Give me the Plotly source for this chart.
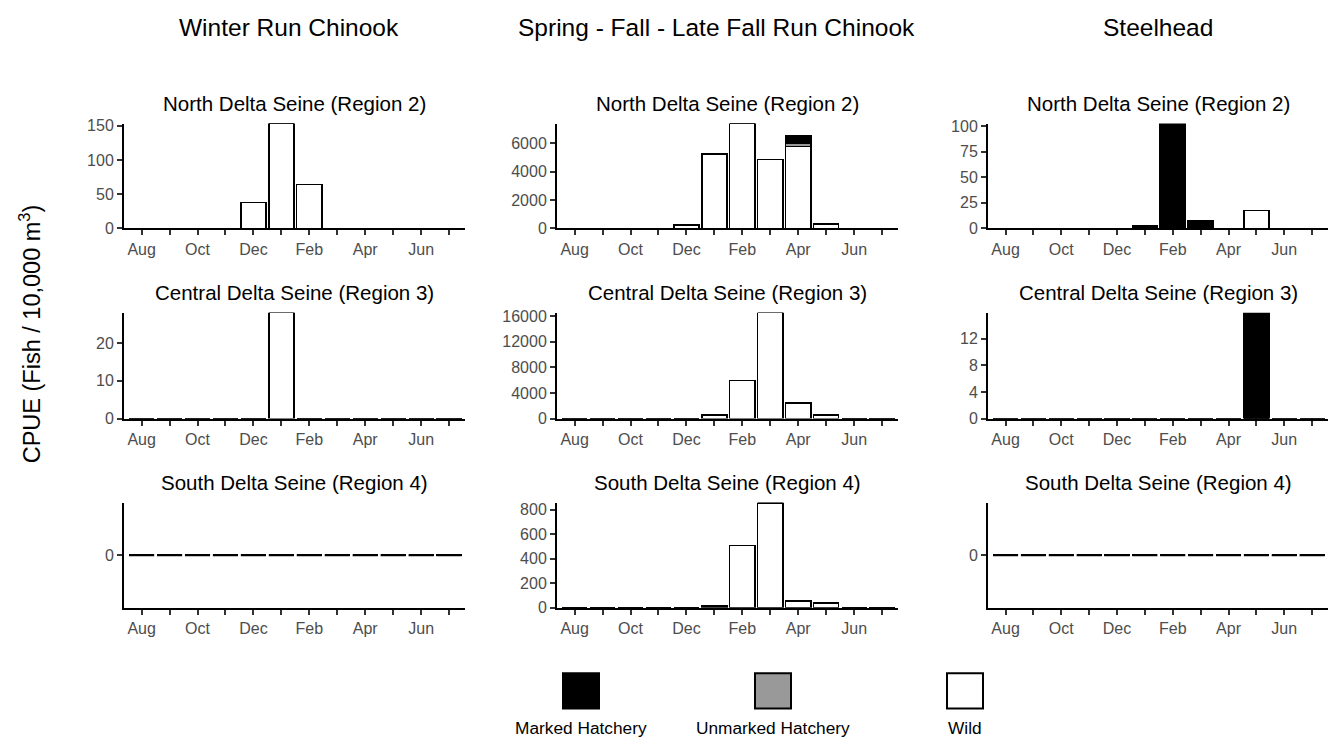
import plotly.graph_objects as go

# ---- data -------------------------------------------------------------
months = ["Aug", "Sep", "Oct", "Nov", "Dec", "Jan", "Feb", "Mar", "Apr", "May", "Jun", "Jul"]
labelled_months = ["Aug", "Oct", "Dec", "Feb", "Apr", "Jun"]

runs = ["Winter Run Chinook", "Spring - Fall - Late Fall Run Chinook", "Steelhead"]
regions = ["North Delta Seine (Region 2)", "Central Delta Seine (Region 3)", "South Delta Seine (Region 4)"]
origins = ["Marked Hatchery", "Unmarked Hatchery", "Wild"]

#                       Aug Sep Oct Nov Dec   Jan   Feb    Mar    Apr   May Jun Jul
winter_north_wild     = [0, 0, 0, 0, 38,   153,  64,    0,     0,    0,   0, 0]
winter_central_wild   = [0, 0, 0, 0, 0,    28,   0,     0,     0,    0,   0, 0]
winter_south_wild     = [0, 0, 0, 0, 0,    0,    0,     0,     0,    0,   0, 0]

sfl_north_marked      = [0, 0, 0, 0, 0,    0,    0,     0,     570,  0,   0, 0]
sfl_north_unmarked    = [0, 0, 0, 0, 0,    0,    0,     0,     180,  0,   0, 0]
sfl_north_wild        = [0, 0, 0, 0, 230,  5250, 7400,  4850,  5800, 300, 0, 0]
sfl_central_wild      = [0, 0, 0, 0, 0,    550,  5950,  16500, 2400, 520, 0, 0]
sfl_south_wild        = [0, 0, 0, 0, 0,    14,   506,   855,   54,   40,  0, 0]

steel_north_marked    = [0, 0, 0, 0, 0,    2.3,  102.5, 8,     0,    0,   0, 0]
steel_north_wild      = [0, 0, 0, 0, 0,    0,    0,     0,     0,    17.5, 0, 0]
steel_central_marked  = [0, 0, 0, 0, 0,    0,    0,     0,     0,    15.9, 0, 0]
steel_south_wild      = [0, 0, 0, 0, 0,    0,    0,     0,     0,    0,   0, 0]

zeros = [0] * 12

# panel grid: rows = regions, columns = runs; each entry is (marked, unmarked, wild)
panels = [
    [(zeros, zeros, winter_north_wild), (sfl_north_marked, sfl_north_unmarked, sfl_north_wild),
     (steel_north_marked, zeros, steel_north_wild)],
    [(zeros, zeros, winter_central_wild), (zeros, zeros, sfl_central_wild),
     (steel_central_marked, zeros, zeros)],
    [(zeros, zeros, winter_south_wild), (zeros, zeros, sfl_south_wild),
     (zeros, zeros, steel_south_wild)],
]

y_ticks = [
    [[0, 50, 100, 150], [0, 2000, 4000, 6000], [0, 25, 50, 75, 100]],
    [[0, 10, 20], [0, 4000, 8000, 12000, 16000], [0, 4, 8, 12]],
    [[0], [0, 200, 400, 600, 800], [0]],
]

# ---- styling ----------------------------------------------------------
W, H = 1330, 747
FONT = "Liberation Sans, Arial, sans-serif"
fills = {"Marked Hatchery": "#000000", "Unmarked Hatchery": "#999999", "Wild": "#FFFFFF"}
BAR_W = 0.9
TICK = dict(ticks="outside", ticklen=5, tickwidth=1.6, tickcolor="#333333")

col_px = [(124, 465), (557, 898), (988, 1328)]
row_px = [(120, 227), (313, 421), (507, 614)]


def px_x(p):
    return p / W


def px_y(p):
    return 1 - p / H


fig = go.Figure()
layout = dict(
    width=W, height=H,
    margin=dict(l=0, r=0, t=0, b=0),
    paper_bgcolor="white", plot_bgcolor="white",
    barmode="stack", bargap=0.1, showlegend=False,
    font=dict(family=FONT, color="black"),
)
annotations = []
shapes = []

month_pos = list(range(len(months)))
label_pos = [months.index(m) for m in labelled_months]

for r in range(3):
    for c in range(3):
        k = r * 3 + c + 1
        xa = "x" if k == 1 else f"x{k}"
        ya = "y" if k == 1 else f"y{k}"
        xkey = "xaxis" if k == 1 else f"xaxis{k}"
        ykey = "yaxis" if k == 1 else f"yaxis{k}"

        series = dict(zip(origins, panels[r][c]))
        totals = [sum(v) for v in zip(*series.values())]
        top = max(totals)

        # stacked from the bottom: wild, then unmarked, then marked on top
        for name in ["Wild", "Unmarked Hatchery", "Marked Hatchery"]:
            fig.add_trace(go.Bar(
                x=month_pos, y=series[name], width=BAR_W, name=name,
                marker=dict(color=fills[name], line=dict(color="black", width=1.5)),
                xaxis=xa, yaxis=ya, hoverinfo="x+y+name",
            ))

        # a panel with no catch still shows each empty bar's outline at zero
        if top == 0:
            seg_x, seg_y = [], []
            for i, t in enumerate(totals):
                seg_x += [i - BAR_W / 2, i + BAR_W / 2, None]
                seg_y += [t, t, None]
            fig.add_trace(go.Scatter(
                x=seg_x, y=seg_y, mode="lines", line=dict(color="black", width=2),
                xaxis=xa, yaxis=ya, hoverinfo="skip",
            ))

        yr = [0, top] if top > 0 else [-1, 1]
        x0, x1 = col_px[c]
        y0, y1 = row_px[r]
        layout[xkey] = dict(
            domain=[px_x(x0), px_x(x1)], anchor=ya,
            range=[-0.63, 11.57], tickmode="array",
            tickvals=label_pos, ticktext=labelled_months,
            minor=dict(tick0=0, dtick=1, showgrid=False, **TICK),
            showline=True, linecolor="black", linewidth=2, **TICK,
            tickfont=dict(size=16, color="#4D4D4D", family=FONT),
            showgrid=False, zeroline=False, fixedrange=True,
        )
        layout[ykey] = dict(
            domain=[px_y(y1), px_y(y0)], anchor=xa,
            range=yr, tickmode="array",
            tickvals=y_ticks[r][c], ticktext=[str(v) for v in y_ticks[r][c]],
            showline=True, linecolor="black", linewidth=2, **TICK,
            tickfont=dict(size=16, color="#4D4D4D", family=FONT),
            showgrid=False, zeroline=False, fixedrange=True,
        )

        # panel strip title
        annotations.append(dict(
            text=regions[r], xref="paper", yref="paper",
            x=px_x((x0 + x1) / 2), y=px_y(y0 - 21),
            xanchor="center", yanchor="middle", showarrow=False,
            font=dict(size=20.5, color="black", family=FONT),
        ))

# column titles
for c, centre in enumerate([289, 716, 1158]):
    annotations.append(dict(
        text=runs[c], xref="paper", yref="paper",
        x=px_x(centre), y=px_y(22), xanchor="center", yanchor="middle",
        showarrow=False, font=dict(size=24.5, color="black", family=FONT),
    ))

# shared y-axis title
annotations.append(dict(
    text="CPUE (Fish / 10,000 m<sup>3</sup>)", xref="paper", yref="paper",
    x=px_x(30), y=px_y(335), xanchor="center", yanchor="middle",
    textangle=-90, showarrow=False, font=dict(size=23.5, color="black", family=FONT),
))

# legend: keys above their labels
for name, cx in zip(origins, [581, 773, 965]):
    shapes.append(dict(
        type="rect", xref="paper", yref="paper",
        x0=px_x(cx - 18), x1=px_x(cx + 18), y0=px_y(717), y1=px_y(681),
        fillcolor=fills[name], line=dict(color="black", width=2),
    ))
    annotations.append(dict(
        text=name, xref="paper", yref="paper",
        x=px_x(cx), y=px_y(737), xanchor="center", yanchor="middle",
        showarrow=False, font=dict(size=17.3, color="black", family=FONT),
    ))

layout["annotations"] = annotations
layout["shapes"] = shapes
fig.update_layout(**layout)

fig.write_html("out.html")
